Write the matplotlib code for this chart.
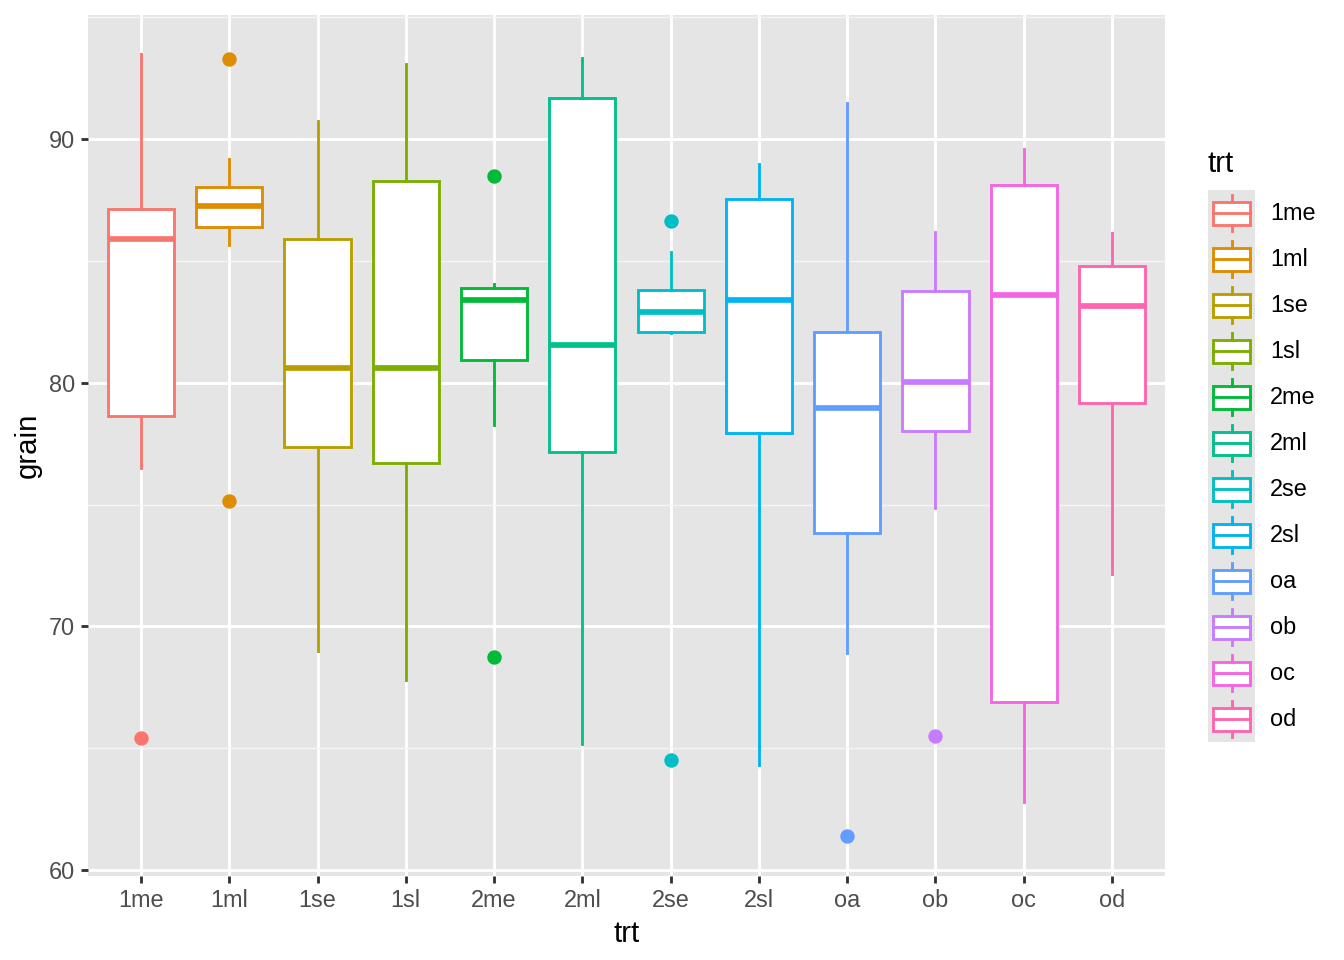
import matplotlib
matplotlib.use("Agg")
import matplotlib.pyplot as plt
from matplotlib.patches import Rectangle

plt.rcParams['font.family'] = ['Liberation Sans', 'DejaVu Sans']

trt = ['1me', '1ml', '1se', '1sl', '2me', '2ml', '2se', '2sl', 'oa', 'ob', 'oc', 'od']
colors = ['#F8766D', '#DE8C00', '#B79F00', '#7CAE00', '#00BA38', '#00C08B',
          '#00BFC4', '#00B4F0', '#619CFF', '#C77CFF', '#F564E3', '#FF64B0']

# five-number summaries
whislo = [76.5, 85.65, 69.0, 67.8, 78.25, 65.15, 82.05, 64.3, 68.9, 74.85, 62.8, 72.15]
q1 = [78.65, 86.4, 77.35, 76.7, 80.95, 77.15, 82.1, 77.95, 73.85, 78.0, 66.9, 79.15]
med = [85.9, 87.25, 80.6, 80.6, 83.4, 81.55, 82.9, 83.4, 78.95, 80.05, 83.6, 83.15]
q3 = [87.15, 88.05, 85.9, 88.3, 83.9, 91.7, 83.8, 87.55, 82.1, 83.75, 88.1, 84.8]
whishi = [93.5, 89.2, 90.75, 93.1, 84.05, 93.35, 85.35, 89.0, 91.5, 86.2, 89.6, 86.15]
outliers = [[65.4], [93.3, 75.15], [], [], [88.5, 68.75], [], [86.65, 64.5], [],
            [61.4], [65.5], [], []]

bg = '#E5E5E5'
fig = plt.figure(figsize=(7, 5), dpi=192)
ax = fig.add_axes([88 / 1344, 1 - 876 / 960, (1165 - 88) / 1344, (876 - 15) / 960])
ax.set_facecolor(bg)
for s in ax.spines.values():
    s.set_visible(False)

lw = 1.07
for i, name in enumerate(trt):
    c = colors[i]
    st = dict(label=name, whislo=whislo[i], q1=q1[i], med=med[i], q3=q3[i],
              whishi=whishi[i], fliers=outliers[i])
    ax.bxp([st], positions=[i + 1], widths=0.75, patch_artist=True, showcaps=False,
           boxprops=dict(facecolor='white', edgecolor=c, linewidth=lw),
           medianprops=dict(color=c, linewidth=2 * lw, solid_capstyle='butt'),
           whiskerprops=dict(color=c, linewidth=lw),
           flierprops=dict(marker='o', markerfacecolor=c, markeredgecolor=c,
                           markersize=4.4, linestyle='none'),
           zorder=3)

ax.set_xlim(0.4, 12.6)
ax.set_ylim(59.75, 95.1)
ax.set_xticks(range(1, 13))
ax.set_xticklabels(trt)
ax.set_yticks([60, 70, 80, 90])
ax.set_yticks([65, 75, 85, 95], minor=True)
ax.grid(True, which='major', color='white', linewidth=lw, zorder=0)
ax.grid(True, which='minor', axis='y', color='#F5F5F5', linewidth=lw / 2, zorder=0)
ax.set_axisbelow(True)
ax.tick_params(which='major', length=2.75, width=lw, color='#333333',
               labelsize=8.8, labelcolor='#4D4D4D', pad=2.2)
ax.tick_params(which='minor', length=0)
ax.set_xlabel('trt', fontsize=11, labelpad=2.75)
ax.set_ylabel('grain', fontsize=11, labelpad=2.75)

# legend drawn in pixel coordinates
lg = fig.add_axes([0, 0, 1, 1], zorder=5)
lg.set_xlim(0, 1344)
lg.set_ylim(960, 0)
lg.axis('off')
lg.text(1208, 164, 'trt', fontsize=11, ha='left', va='center')
kx, kw, kh, ky0 = 1208, 47, 46, 190
for i, name in enumerate(trt):
    c = colors[i]
    top = ky0 + i * kh
    lg.add_patch(Rectangle((kx, top), kw, kh, facecolor=bg, edgecolor='none'))
    cx = kx + kw / 2
    lg.plot([cx, cx], [top + 0.1 * kh, top + 0.25 * kh], color=c, lw=lw)
    lg.plot([cx, cx], [top + 0.75 * kh, top + 0.9 * kh], color=c, lw=lw)
    lg.add_patch(Rectangle((kx + 0.1 * kw, top + 0.25 * kh), 0.8 * kw, 0.5 * kh,
                           facecolor='white', edgecolor=c, lw=lw))
    lg.plot([kx + 0.1 * kw, kx + 0.9 * kw], [top + kh / 2, top + kh / 2], color=c, lw=lw)
    lg.text(1270, top + kh / 2 + 1, name, fontsize=8.8, ha='left', va='center')

fig.savefig('out.png', dpi=192, facecolor='white')
